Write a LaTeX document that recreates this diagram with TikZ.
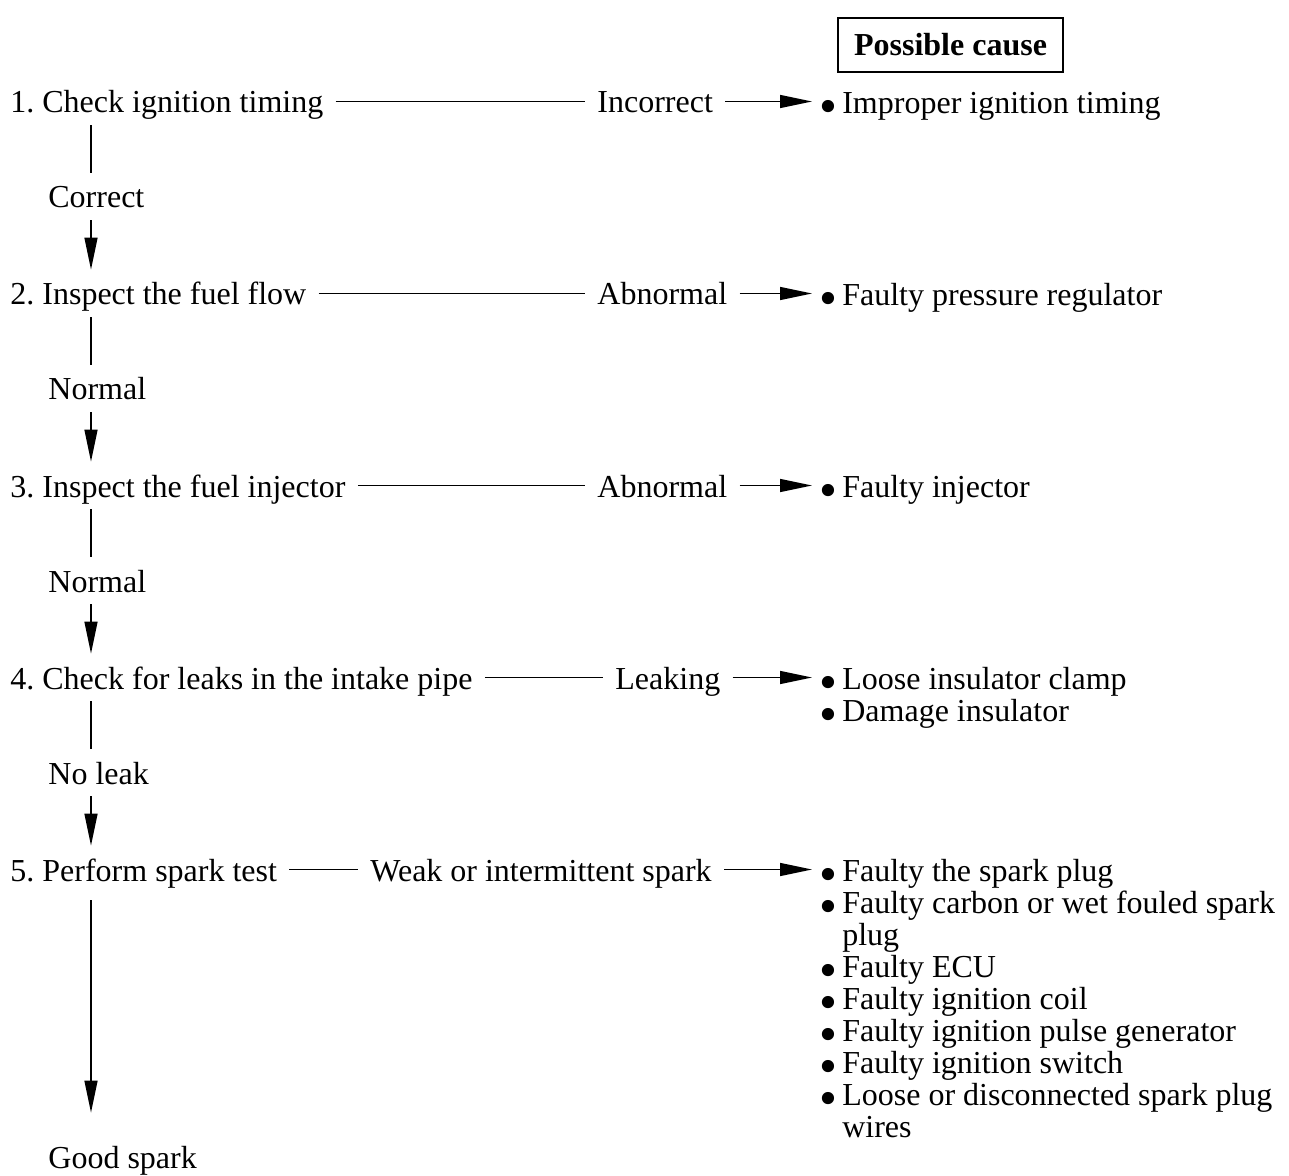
\documentclass[tikz,border=0pt]{standalone}
\usepackage{fontspec}
\setmainfont{Liberation Serif}
\usetikzlibrary{arrows.meta}
\frenchspacing
\newcommand{\causedot}{\smash{\raisebox{-5pt}{\scalebox{1.6}{\textbullet}}}\hspace{2.5pt}}
\newcommand{\causestrut}{\rule{0pt}{12pt}}

\begin{document}
\begin{tikzpicture}[
  x=0.5pt, y=-0.5pt,
  every node/.style={font=\fontsize{16}{16}\selectfont},
  stepnode/.style={anchor=base west, inner xsep=6pt, inner ysep=2.5pt, text height=15pt, text depth=3.5pt},
  cause/.style={anchor=north west, inner xsep=3.5pt, inner ysep=0pt, align=left},
  header/.style={draw, line width=0.6pt, minimum width=112.5pt, minimum height=27pt, font=\fontsize{16}{16}\selectfont\bfseries},
  link/.style={line width=0.7pt},
  arr/.style={link, -{Triangle[length=16pt,width=6.5pt]}}
]
\useasboundingbox (0,0) rectangle (1289,1176);
\coordinate (col) at (91,0);

% Header
\node[header] (hdr) at (950.5,45) {Possible cause};

% Step 1: ignition timing
\node[stepnode] (s1) at (-2,113) {1. Check ignition timing};
\node[stepnode] (r1) at (585,113) {Incorrect};
\node[cause] (c1) at (812,89) {\causestrut\causedot Improper ignition timing};
\draw[link] (s1) -- (r1);
\draw[arr] (r1) -- (r1 -| c1.west);
\node[stepnode] (o1) at (36,208) {Correct};

% Step 2: fuel flow
\node[stepnode] (s2) at (-2,305) {2. Inspect the fuel flow};
\node[stepnode] (r2) at (585,305) {Abnormal};
\node[cause] (c2) at (812,281) {\causestrut\causedot Faulty pressure regulator};
\draw[link] (s2) -- (r2);
\draw[arr] (r2) -- (r2 -| c2.west);
\node[stepnode] (o2) at (36,400) {Normal};

% Step 3: fuel injector
\node[stepnode] (s3) at (-2,497) {3. Inspect the fuel injector};
\node[stepnode] (r3) at (585,497) {Abnormal};
\node[cause] (c3) at (812,473) {\causestrut\causedot Faulty injector};
\draw[link] (s3) -- (r3);
\draw[arr] (r3) -- (r3 -| c3.west);
\node[stepnode] (o3) at (36,592) {Normal};

% Step 4: intake pipe
\node[stepnode] (s4) at (-2,689) {4. Check for leaks in the intake pipe};
\node[stepnode] (r4) at (603,689) {Leaking};
\node[cause] (c4) at (812,665) {\causestrut\causedot Loose insulator clamp\\
  \causedot Damage insulator};
\draw[link] (s4) -- (r4);
\draw[arr] (r4) -- (r4 -| c4.west);
\node[stepnode] (o4) at (36,784) {No leak};

% Step 5: spark test
\node[stepnode] (s5) at (-2,881) {5. Perform spark test};
\node[stepnode] (r5) at (358,881) {Weak or intermittent spark};
\node[cause] (c5) at (812,857) {\causestrut\causedot Faulty the spark plug\\
  \causedot Faulty carbon or wet fouled spark\\
  \hphantom{\causedot}plug\\
  \causedot Faulty ECU\\
  \causedot Faulty ignition coil\\
  \causedot Faulty ignition pulse generator\\
  \causedot Faulty ignition switch\\
  \causedot Loose or disconnected spark plug\\
  \hphantom{\causedot}wires};
\draw[link] (s5) -- (r5);
\draw[arr] (r5) -- (r5 -| c5.west);
\node[stepnode] (o5) at (36,1168) {Good spark};

% Vertical flow
\draw[link] (s1.south -| col) -- (o1.north -| col);
\draw[arr] (o1.south -| col) -- (s2.north -| col);
\draw[link] (s2.south -| col) -- (o2.north -| col);
\draw[arr] (o2.south -| col) -- (s3.north -| col);
\draw[link] (s3.south -| col) -- (o3.north -| col);
\draw[arr] (o3.south -| col) -- (s4.north -| col);
\draw[link] (s4.south -| col) -- (o4.north -| col);
\draw[arr] (o4.south -| col) -- (s5.north -| col);
\draw[arr, shorten >=10pt] ([yshift=-3.5pt]s5.south -| col) -- (o5.north -| col);
\end{tikzpicture}
\end{document}
